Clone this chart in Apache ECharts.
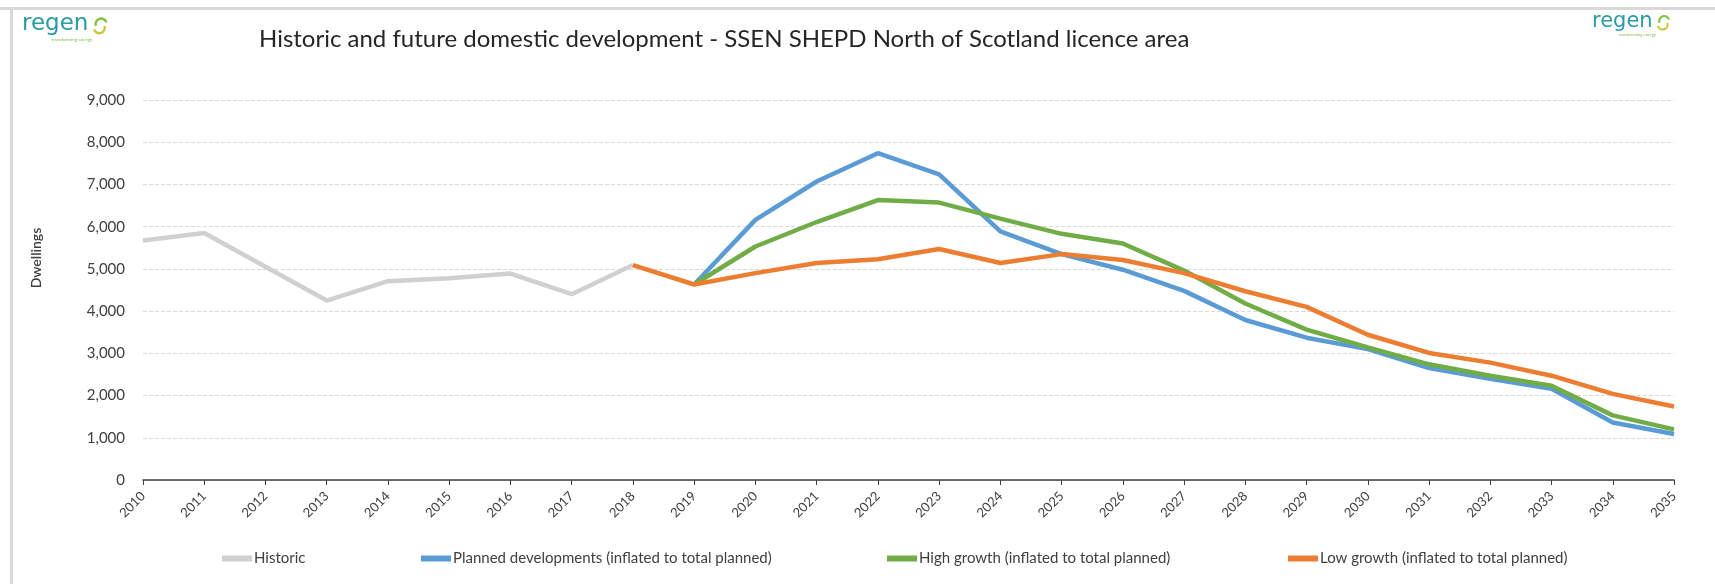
<!DOCTYPE html>
<html>
<head>
<meta charset="utf-8">
<title>Historic and future domestic development</title>
<script src="https://cdn.jsdelivr.net/npm/echarts@6/dist/echarts.min.js"></script>
<style>
  html, body { margin: 0; padding: 0; background: #fff; }
  #chart { width: 1715px; height: 584px; }
</style>
</head>
<body>
<div id="chart"></div>
<script>
// years on the x axis
var years = ['2010','2011','2012','2013','2014','2015','2016','2017','2018','2019','2020','2021','2022',
  '2023','2024','2025','2026','2027','2028','2029','2030','2031','2032','2033','2034','2035'];

// dwellings
var historic = [5670, 5850, 5050, 4250, 4710, 4780, 4890, 4400, 5090,
  null, null, null, null, null, null, null, null, null, null, null, null, null, null, null, null, null];
var planned = [null, null, null, null, null, null, null, null, null,
  4630, 6160, 7070, 7740, 7240, 5890, 5350, 4980, 4480, 3790, 3370, 3100, 2650, 2400, 2160, 1360, 1090];
var highGrowth = [null, null, null, null, null, null, null, null, null,
  4630, 5530, 6110, 6630, 6570, 6190, 5830, 5600, 4960, 4180, 3560, 3140, 2740, 2470, 2230, 1530, 1200];
var lowGrowth = [null, null, null, null, null, null, null, null,
  5090, 4630, 4900, 5140, 5230, 5470, 5140, 5350, 5210, 4900, 4470, 4100, 3440, 3010, 2780, 2470, 2040, 1740];

var names = ['Historic', 'Planned developments (inflated to total planned)',
  'High growth (inflated to total planned)', 'Low growth (inflated to total planned)'];
var colors = ['#d0d0d0', '#5b9bd5', '#70ad47', '#ed7d31'];

var font = 'Lato, "Open Sans", sans-serif';
var txt = '#404040';

function legendAt(i, left) {
  return {
    data: [names[i]],
    left: left,
    top: 546,
    icon: 'rect',
    itemWidth: 30,
    itemHeight: 6,
    textStyle: { fontFamily: font, fontSize: 15, color: txt, padding: [0, 0, 0, -3] }
  };
}

function logo(x, y, size) {
  var s = size / 25;
  return {
    type: 'group',
    left: x,
    top: y,
    children: [
      { type: 'text', style: { text: 'regen', x: 0, y: 0, font: 'normal ' + size + 'px "DejaVu Sans"', fill: '#2a9aa4' } },
      { type: 'arc', shape: { cx: 86 * s, cy: 12 * s, r: 6 * s, startAngle: Math.PI * 0.9, endAngle: Math.PI * 1.9 },
        style: { stroke: '#7fbf3f', lineWidth: 2.5 * s, fill: null } },
      { type: 'arc', shape: { cx: 84 * s, cy: 16 * s, r: 6 * s, startAngle: Math.PI * 1.9, endAngle: Math.PI * 0.9 },
        style: { stroke: '#c9c63a', lineWidth: 2.5 * s, fill: null } },
      { type: 'text', style: { text: 'transforming energy', x: 32 * s, y: 26 * s,
        font: 'normal ' + (5 * s) + 'px ' + font, fill: '#7fbf3f' } }
    ]
  };
}

var chart = echarts.init(document.getElementById('chart'));
chart.setOption({
  animation: false,
  title: {
    text: 'Historic and future domestic development - SSEN SHEPD North of Scotland licence area',
    left: 254,
    top: 22,
    textStyle: { fontFamily: font, fontSize: 24, fontWeight: 'normal', color: '#262626' }
  },
  graphic: [
    { type: 'rect', shape: { x: 0, y: 7, width: 1715, height: 3 }, style: { fill: '#d9d9d9' } },
    { type: 'rect', shape: { x: 10, y: 7, width: 3, height: 577 }, style: { fill: '#d9d9d9' } },
    logo(22, 13, 23),
    logo(1592, 11, 21),
    {
      type: 'text', x: 36, y: 258, rotation: Math.PI / 2,
      style: { text: 'Dwellings', font: '600 14px ' + font, fill: txt, align: 'center', verticalAlign: 'middle' }
    }
  ],
  legend: [legendAt(0, 217), legendAt(1, 416), legendAt(2, 882), legendAt(3, 1283)],
  grid: { left: 143, right: 41, top: 100, bottom: 104 },
  xAxis: {
    type: 'category',
    data: years,
    boundaryGap: false,
    axisLine: { lineStyle: { color: '#404040', width: 1.5 } },
    axisTick: { show: true, length: 5, lineStyle: { color: '#404040' } },
    axisLabel: { rotate: 45, margin: 14, fontFamily: font, fontSize: 13, color: txt, interval: 0 }
  },
  yAxis: {
    type: 'value',
    min: 0,
    max: 9000,
    interval: 1000,
    axisLine: { show: false },
    axisTick: { show: false },
    axisLabel: {
      margin: 18, fontFamily: font, fontSize: 15, color: txt,
      formatter: function (v) { return v.toLocaleString('en-GB'); }
    },
    splitLine: { lineStyle: { color: '#d9d9d9', type: 'dashed', width: 1 } }
  },
  series: [
    { name: names[0], type: 'line', data: historic, symbol: 'none', lineStyle: { width: 4.5, color: colors[0] }, itemStyle: { color: colors[0] } },
    { name: names[1], type: 'line', data: planned, symbol: 'none', lineStyle: { width: 4.5, color: colors[1] }, itemStyle: { color: colors[1] } },
    { name: names[2], type: 'line', data: highGrowth, symbol: 'none', lineStyle: { width: 4.5, color: colors[2] }, itemStyle: { color: colors[2] } },
    { name: names[3], type: 'line', data: lowGrowth, symbol: 'none', lineStyle: { width: 4.5, color: colors[3] }, itemStyle: { color: colors[3] } }
  ]
});
</script>
</body>
</html>
